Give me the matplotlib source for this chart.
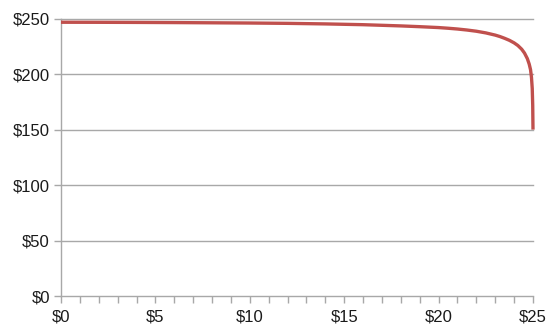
import matplotlib
matplotlib.use("Agg")
import matplotlib.pyplot as plt
from matplotlib.ticker import MultipleLocator, FuncFormatter

# Data
x_vals = [0, 2, 4, 6, 8, 10, 12, 14, 16, 18, 19, 20, 20.5, 21, 21.5, 22, 22.5,
          23, 23.25, 23.5, 23.75, 24, 24.2, 24.4, 24.55, 24.7, 24.8, 24.87,
          24.92, 24.96, 24.985, 25]
y_vals = [246.8, 246.75, 246.65, 246.5, 246.3, 246.1, 245.8, 245.3, 244.6, 243.5,
          242.8, 242.0, 241.4, 240.7, 239.8, 238.7, 237.2, 235.2, 233.9, 232.3,
          230.5, 228.2, 225.8, 222.5, 219.0, 214.0, 209.0, 204.0, 197.0, 187.0,
          172.0, 150.0]
x_ticks = [0, 5, 10, 15, 20, 25]
y_ticks = [0, 50, 100, 150, 200, 250]

plt.rcParams['font.family'] = ['Liberation Sans', 'DejaVu Sans']

fig = plt.figure(figsize=(5.49, 3.25), dpi=100)
ax = fig.add_axes([61/549, 1-296/325, (533-61)/549, (296-18.7)/325])

grid_color = '#A8A8A8'
ax.plot(x_vals, y_vals, color='#C0504D', linewidth=2.4, solid_capstyle='butt',
        solid_joinstyle='round', zorder=3, clip_on=False)

ax.set_xlim(0, 25)
ax.set_ylim(0, 250)
ax.set_xticks(x_ticks)
ax.set_yticks(y_ticks)
ax.xaxis.set_minor_locator(MultipleLocator(1))
fmt = FuncFormatter(lambda v, p: f"${int(v)}")
ax.xaxis.set_major_formatter(fmt)
ax.yaxis.set_major_formatter(fmt)

for yv in y_ticks[1:]:
    ax.axhline(yv, color=grid_color, linewidth=1.0, zorder=1, clip_on=False)

for s in ['top', 'right']:
    ax.spines[s].set_visible(False)
for s in ['left', 'bottom']:
    ax.spines[s].set_color(grid_color)
    ax.spines[s].set_linewidth(1.0)

ax.tick_params(axis='both', which='both', direction='out', length=5, width=1.0,
               color=grid_color, labelsize=12, labelcolor='#1a1a1a')
ax.tick_params(axis='y', pad=3)
ax.tick_params(axis='x', pad=5)

fig.savefig('out.png', dpi=100)
